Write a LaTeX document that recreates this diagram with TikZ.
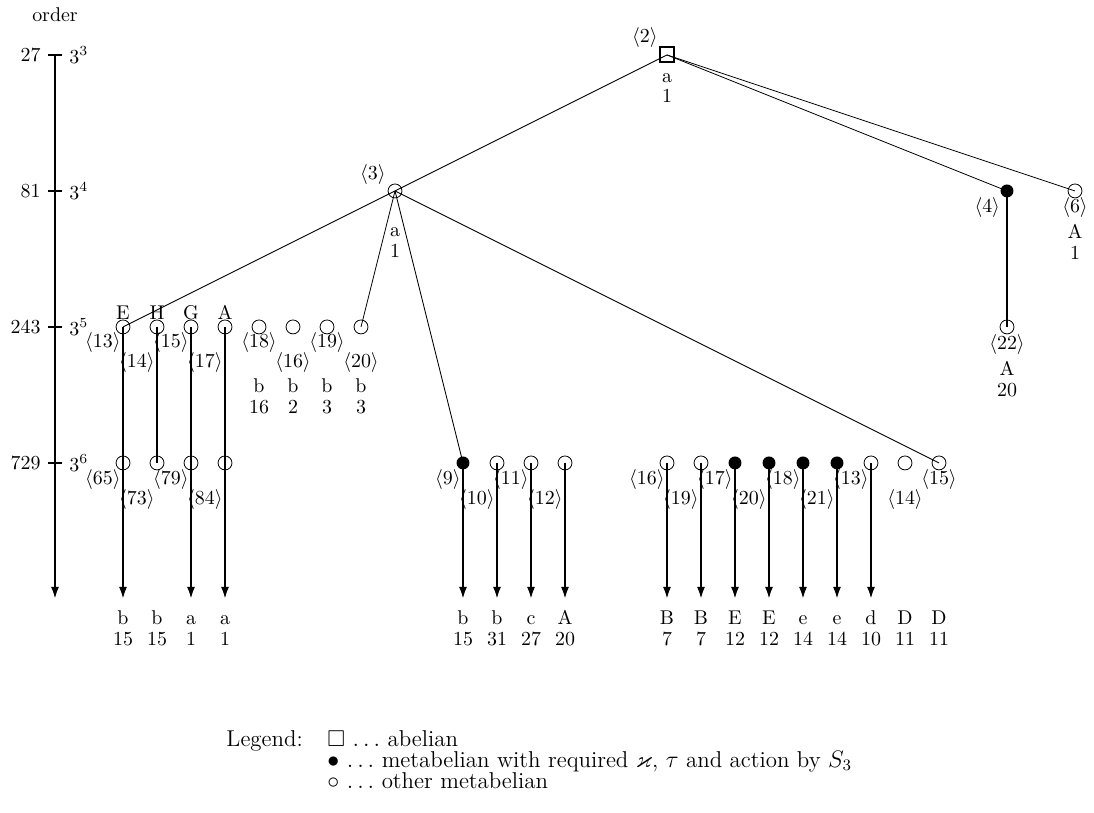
\documentclass[tikz,border=0pt]{standalone}
\usepackage{amssymb}
\usetikzlibrary{arrows.meta}
\tikzset{
  abel/.style={draw,rectangle,line width=1pt,inner sep=0pt,minimum size=7.5pt},
  meta/.style={circle,fill,inner sep=0pt,minimum size=6.5pt},
  other/.style={circle,draw,thin,inner sep=0pt,minimum size=7pt},
  edge/.style={thin},
  vert/.style={line width=1pt},
  down/.style={line width=1pt,-{Latex[length=6pt,width=4pt]}},
  tag/.style={inner sep=1pt},
  typ/.style={align=center,anchor=base,inner sep=0pt,
    font=\fontsize{10}{10.5}\selectfont},
}
\begin{document}
\begin{tikzpicture}[x=6mm,y=24mm]
\useasboundingbox (-1.618,0.404) rectangle (30.559,-5.574);
% order axis
\node (ord) at (0,0.294) {order};
\draw[down] (0,0) -- (0,-4);
\foreach \y/\n/\e in {0/27/3,-1/81/4,-2/243/5,-3/729/6}
  \draw[vert] (-0.2,\y) node[left] {$\n$} -- (0.2,\y) node[right] {$3^{\e}$};
% vertices
\node[abel] (n2) at (18,0) {};
\node[other] (n3) at (10,-1) {};
\node[meta] (n4) at (28,-1) {};
\node[other] (n6) at (30,-1) {};
\node[other] (n22) at (28,-2) {};
\foreach \c in {2,...,9}
  \node[other] (p\c) at (\c,-2) {};
\foreach \c in {2,3,4,5,13,14,15,18,19,24,25,26}
  \node[other] (q\c) at (\c,-3) {};
\foreach \c in {12,20,21,22,23}
  \node[meta] (q\c) at (\c,-3) {};
% edges
\draw[edge] (n2.center) -- (n3.center);
\draw[edge] (n2.center) -- (n4.center);
\draw[edge] (n2.center) -- (n6.center);
\draw[vert] (n4.center) -- (n22.center);
\foreach \t in {p2,p9,q12,q26}
  \draw[edge] (n3.center) -- (\t.center);
\draw[vert] (p3.center) -- (q3.center);
\foreach \c in {2,4,5} {
  \coordinate (t\c) at (\c,-4);
  \draw[down] (p\c.center) -- (t\c);
}
\foreach \c in {12,13,14,15,18,19,20,21,22,23,24} {
  \coordinate (t\c) at (\c,-4);
  \draw[down] (q\c.center) -- (t\c);
}
% labels of the upper vertices
\node (l2) at (17.35,0.13) {$\langle2\rangle$};
\node[typ] (s2) at (18,-0.353) {a\\1};
\node (l3) at (9.35,-0.88) {$\langle3\rangle$};
\node[typ] (s3) at (10,-1.492) {a\\1};
\node[left] (l4) at (28,-1.125) {$\langle4\rangle$};
\node (l6) at (30,-1.125) {$\langle6\rangle$};
\node[typ] (s6) at (30,-1.504) {A\\1};
\node (l22) at (28,-2.13) {$\langle22\rangle$};
\node[typ] (s22) at (28,-2.514) {A\\20};
% order 243
\foreach \c/\l in {2/E,3/H,4/G,5/A}
  \node[above] (h\c) at (p\c.center) {\l};
\foreach \c/\k/\y in {2/13/-2.118,3/14/-2.265,4/15/-2.118,5/17/-2.265}
  \node[tag,left] (lp\c) at (\c,\y) {$\langle\k\rangle$};
\foreach \c/\k/\y in {6/18/-2.118,7/16/-2.265,8/19/-2.118,9/20/-2.265}
  \node (lp\c) at (\c,\y) {$\langle\k\rangle$};
\foreach \c/\n in {6/16,7/2,8/3,9/3}
  \node[typ] (sp\c) at (\c,-2.639) {b\\\n};
% order 729
\foreach \c/\k/\y in {2/65/-3.125,3/73/-3.272,4/79/-3.125,5/84/-3.272,
    12/9/-3.125,13/10/-3.272,14/11/-3.125,15/12/-3.272,
    18/16/-3.125,19/19/-3.272,20/17/-3.125,21/20/-3.272,
    22/18/-3.125,23/21/-3.272,24/13/-3.125}
  \node[tag,left] (lq\c) at (\c,\y) {$\langle\k\rangle$};
\foreach \c/\k/\y in {25/14/-3.272,26/15/-3.125}
  \node (lq\c) at (\c,\y) {$\langle\k\rangle$};
\foreach \c/\l/\n in {2/b/15,3/b/15,4/a/1,5/a/1,12/b/15,13/b/31,14/c/27,
    15/A/20,18/B/7,19/B/7,20/E/12,21/E/12,22/e/14,23/e/14,24/d/10,
    25/D/11,26/D/11}
  \node[typ] (sq\c) at (\c,-4.344) {\l\\\n};
% legend
\node[anchor=base east,inner sep=0pt,font=\fontsize{11.5}{10.6}\selectfont]
  (leg) at (7.3,-5.083) {Legend:};
\node[anchor=base west,inner sep=0pt,align=left,
  font=\fontsize{11.5}{10.6}\selectfont] (keys) at (8.0,-5.392)
  {$\square$ $\ldots$ abelian\\
   $\bullet$ $\ldots$ metabelian with required $\varkappa$, $\tau$ and action by $S_3$\\
   $\circ$ $\ldots$ other metabelian};
\end{tikzpicture}
\end{document}
